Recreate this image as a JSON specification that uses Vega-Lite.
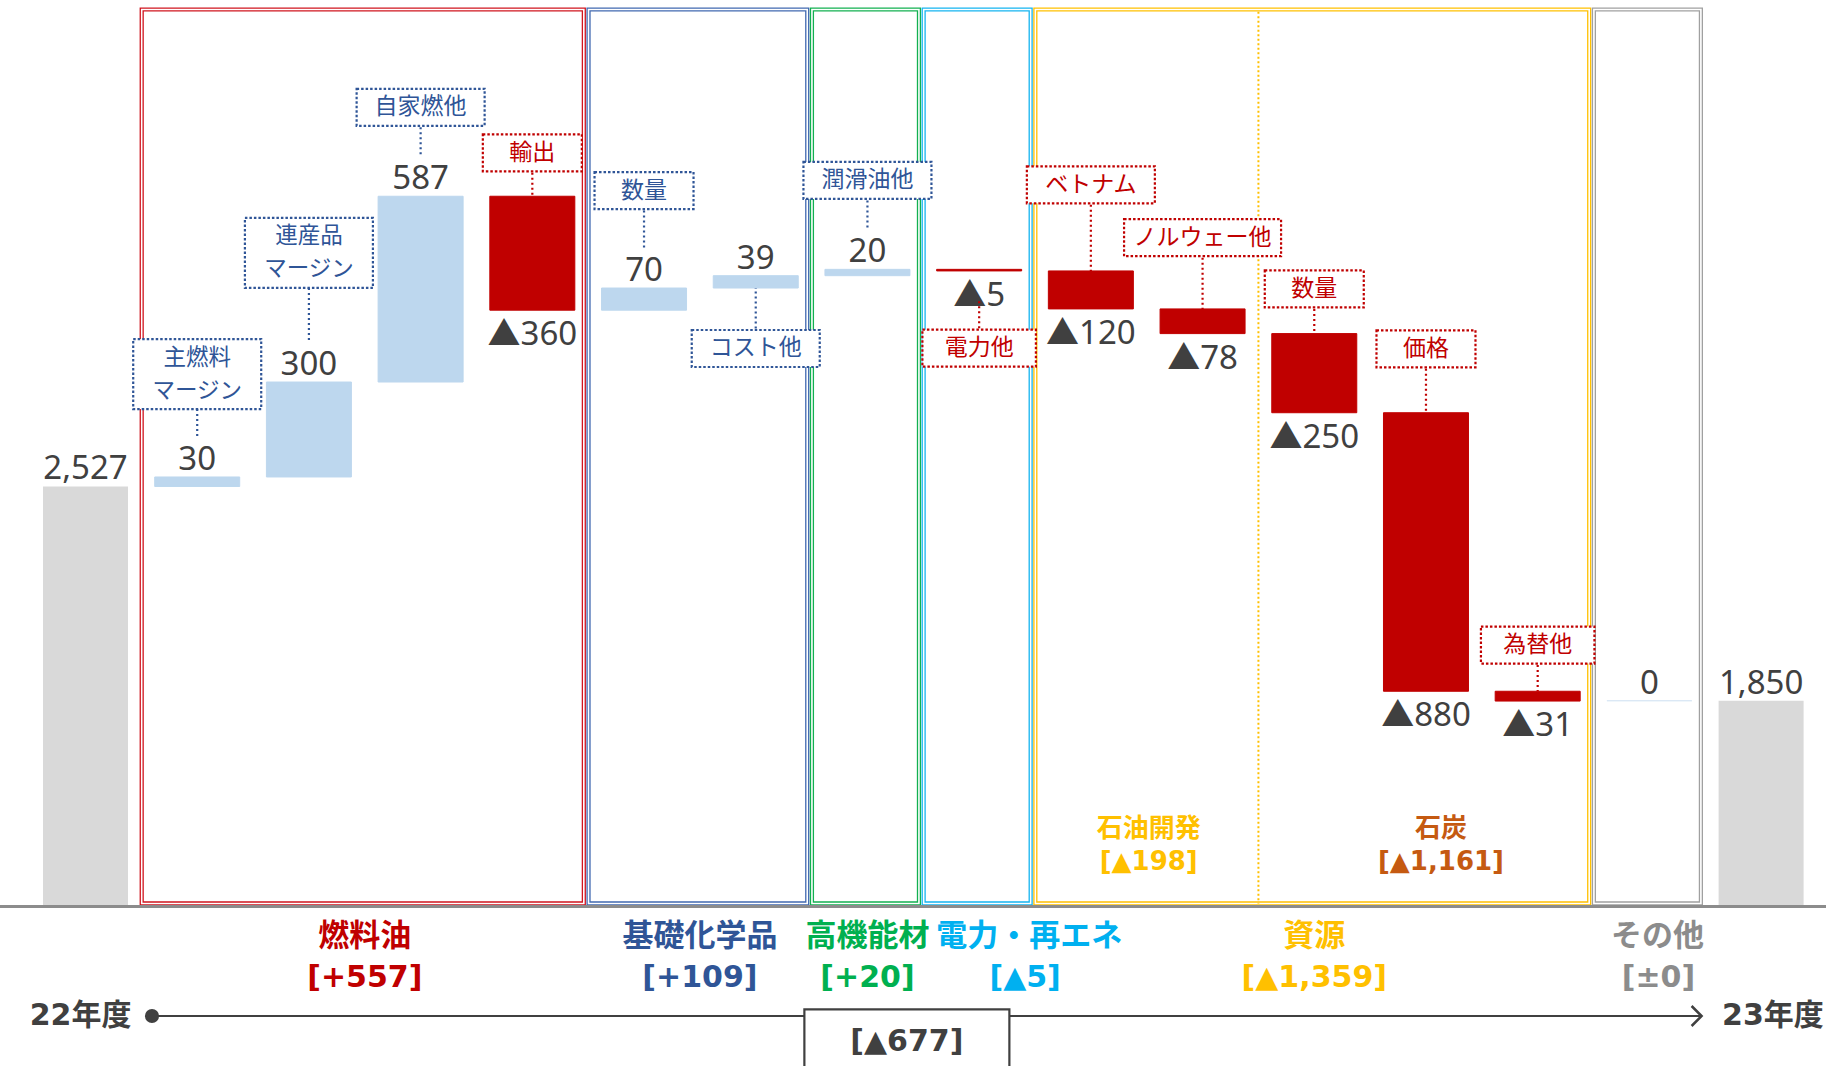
{
  "$schema": "https://vega.github.io/schema/vega-lite/v6.json",
  "width": 1826,
  "height": 1066,
  "padding": 0,
  "autosize": {"type": "none"},
  "background": "white",
  "config": {"view": {"stroke": null}, "axis": {"disable": true}, "legend": {"disable": true}},
  "datasets": {
    "bars": [
      {"i": 0, "item": "22年度", "kind": "total", "value": 2527, "end": 2527},
      {"i": 1, "item": "主燃料マージン", "kind": "up", "value": 30, "start": 2527, "end": 2557, "group": "燃料油", "note": "主燃料", "note2": "マージン", "noteLevel": 2882},
      {"i": 2, "item": "連産品マージン", "kind": "up", "value": 300, "start": 2557, "end": 2857, "group": "燃料油", "note": "連産品", "note2": "マージン", "noteLevel": 3265},
      {"i": 3, "item": "自家燃他", "kind": "up", "value": 587, "start": 2857, "end": 3444, "group": "燃料油", "note": "自家燃他", "noteLevel": 3725},
      {"i": 4, "item": "輸出", "kind": "down", "value": -360, "start": 3444, "end": 3084, "group": "燃料油", "note": "輸出", "noteLevel": 3581},
      {"i": 5, "item": "数量", "kind": "up", "value": 70, "start": 3084, "end": 3154, "group": "基礎化学品", "note": "数量", "noteLevel": 3462},
      {"i": 6, "item": "コスト他", "kind": "up", "value": 39, "start": 3154, "end": 3193, "group": "基礎化学品", "note": "コスト他", "noteLevel": 2963},
      {"i": 7, "item": "潤滑油他", "kind": "up", "value": 20, "start": 3193, "end": 3213, "group": "高機能材", "note": "潤滑油他", "noteLevel": 3494},
      {"i": 8, "item": "電力他", "kind": "down", "value": -5, "start": 3213, "end": 3208, "group": "電力・再エネ", "note": "電力他", "noteLevel": 2964},
      {"i": 9, "item": "ベトナム", "kind": "down", "value": -120, "start": 3208, "end": 3088, "group": "資源", "sub": "石油開発", "note": "ベトナム", "noteLevel": 3480},
      {"i": 10, "item": "ノルウェー他", "kind": "down", "value": -78, "start": 3088, "end": 3010, "group": "資源", "sub": "石油開発", "note": "ノルウェー他", "noteLevel": 3313},
      {"i": 11, "item": "数量", "kind": "down", "value": -250, "start": 3010, "end": 2760, "group": "資源", "sub": "石炭", "note": "数量", "noteLevel": 3151},
      {"i": 12, "item": "価格", "kind": "down", "value": -880, "start": 2760, "end": 1880, "group": "資源", "sub": "石炭", "note": "価格", "noteLevel": 2962},
      {"i": 13, "item": "為替他", "kind": "down", "value": -31, "start": 1880, "end": 1849, "group": "資源", "sub": "石炭", "note": "為替他", "noteLevel": 2026},
      {"i": 14, "item": "その他", "kind": "zero", "value": 0, "start": 1850, "end": 1850, "group": "その他"},
      {"i": 15, "item": "23年度", "kind": "total", "value": 1850, "end": 1850}
    ],
    "change": [{"label": "22年度→23年度", "value": -677}]
  },
  "data": {"name": "bars"},
  "resolve": {"scale": {"color": "independent", "stroke": "independent"}},
  "layer": [
    {
      "transform": [
        {"filter": "isValid(datum.group)"},
        {"aggregate": [{"op": "min", "field": "i", "as": "i0"}, {"op": "max", "field": "i", "as": "i1"}], "groupby": ["group"]}
      ],
      "mark": {"type": "rect", "filled": false, "strokeWidth": 4.2, "xOffset": -55.5, "x2Offset": 51.5},
      "encoding": {
        "x": {"field": "i0", "type": "quantitative", "scale": {"domain": [-0.7654, 15.581], "nice": false, "zero": false}, "axis": null},
        "x2": {"field": "i1"},
        "y": {"datum": 4034, "type": "quantitative", "scale": {"domain": [696, 4064], "nice": false, "zero": false}, "axis": null},
        "y2": {"datum": 1209.5},
        "color": {"field": "group", "type": "nominal", "legend": null,
          "scale": {"domain": ["燃料油", "基礎化学品", "高機能材", "電力・再エネ", "資源", "その他"], "range": ["#D0141E", "#4068B0", "#12B050", "#14B4F0", "#FFC000", "#A0A0A0"]}}
      }
    },
    {
      "transform": [
        {"filter": "isValid(datum.group)"},
        {"aggregate": [{"op": "min", "field": "i", "as": "i0"}, {"op": "max", "field": "i", "as": "i1"}], "groupby": ["group"]}
      ],
      "mark": {"type": "rect", "filled": false, "strokeWidth": 1.6, "color": "white", "xOffset": -55.5, "x2Offset": 51.5},
      "encoding": {
        "x": {"field": "i0", "type": "quantitative", "scale": {"domain": [-0.7654, 15.581], "nice": false, "zero": false}, "axis": null},
        "x2": {"field": "i1"},
        "y": {"datum": 4034, "type": "quantitative", "scale": {"domain": [696, 4064], "nice": false, "zero": false}, "axis": null},
        "y2": {"datum": 1209.5}
      }
    },
    {
      "transform": [
        {"filter": "datum.sub === '石炭'"},
        {"aggregate": [{"op": "min", "field": "i", "as": "i0"}]}
      ],
      "mark": {"type": "rule", "color": "#FFC000", "strokeWidth": 2, "strokeDash": [2, 2.5], "xOffset": -55.85},
      "encoding": {
        "x": {"field": "i0", "type": "quantitative", "scale": {"domain": [-0.7654, 15.581], "nice": false, "zero": false}, "axis": null},
        "y": {"datum": 4027, "type": "quantitative", "scale": {"domain": [696, 4064], "nice": false, "zero": false}, "axis": null},
        "y2": {"datum": 1209.5}
      }
    },
    {
      "transform": [{"filter": "datum.kind === 'total'"}],
      "mark": {"type": "rect", "color": "#D9D9D9", "xOffset": -42.5, "x2Offset": 42.5},
      "encoding": {
        "x": {"field": "i", "type": "quantitative", "scale": {"domain": [-0.7654, 15.581], "nice": false, "zero": false}, "axis": null},
        "x2": {"field": "i"},
        "y": {"field": "value", "type": "quantitative", "scale": {"domain": [696, 4064], "nice": false, "zero": false}, "axis": null},
        "y2": {"datum": 1200}
      }
    },
    {
      "transform": [{"filter": "datum.kind !== 'total'"}],
      "mark": {"type": "rect", "strokeWidth": 1, "xOffset": -42.5, "x2Offset": 42.5},
      "encoding": {
        "x": {"field": "i", "type": "quantitative", "scale": {"domain": [-0.7654, 15.581], "nice": false, "zero": false}, "axis": null},
        "x2": {"field": "i"},
        "y": {"field": "start", "type": "quantitative", "scale": {"domain": [696, 4064], "nice": false, "zero": false}, "axis": null},
        "y2": {"field": "end"},
        "color": {"field": "kind", "type": "nominal", "legend": null, "scale": {"domain": ["up", "down", "zero"], "range": ["#BDD7EE", "#C00000", "#DAE7F5"]}},
        "stroke": {"field": "kind", "type": "nominal", "legend": null, "scale": {"domain": ["up", "down", "zero"], "range": ["#BDD7EE", "#C00000", "#DAE7F5"]}}
      }
    },
    {
      "mark": {"type": "rule", "color": "#8C8C8C", "strokeWidth": 2.2},
      "encoding": {
        "y": {"datum": 1199.5, "type": "quantitative", "scale": {"domain": [696, 4064], "nice": false, "zero": false}, "axis": null}
      }
    },
    {
      "transform": [{"calculate": "datum.value < 0 ? '▲' + format(-datum.value, ',') : format(datum.value, ',')", "as": "lbl"}],
      "mark": {"type": "text", "font": "Noto Sans, Noto Sans CJK JP", "fontSize": 33, "color": "#404040", "baseline": "alphabetic", "dy": {"expr": "datum.kind === 'down' ? 35 : -7"}},
      "encoding": {
        "x": {"field": "i", "type": "quantitative", "scale": {"domain": [-0.7654, 15.581], "nice": false, "zero": false}, "axis": null},
        "y": {"field": "end", "type": "quantitative", "scale": {"domain": [696, 4064], "nice": false, "zero": false}, "axis": null},
        "text": {"field": "lbl"}
      }
    },
    {
      "transform": [{"filter": "isValid(datum.note) && datum.kind === 'up' && datum.noteLevel > datum.end"}],
      "mark": {"type": "rule", "strokeWidth": 2.2, "strokeDash": [2, 3], "y2Offset": -39},
      "encoding": {
        "x": {"field": "i", "type": "quantitative", "scale": {"domain": [-0.7654, 15.581], "nice": false, "zero": false}, "axis": null},
        "y": {"field": "noteLevel", "type": "quantitative", "scale": {"domain": [696, 4064], "nice": false, "zero": false}, "axis": null},
        "y2": {"field": "end"},
        "color": {"field": "kind", "type": "nominal", "legend": null, "scale": {"domain": ["up", "down"], "range": ["#2F5597", "#C00000"]}}
      }
    },
    {
      "transform": [{"filter": "isValid(datum.note) && ((datum.kind === 'down' && datum.noteLevel > datum.start) || (datum.kind === 'up' && datum.noteLevel < datum.start))"}],
      "mark": {"type": "rule", "strokeWidth": 2.2, "strokeDash": [2, 3]},
      "encoding": {
        "x": {"field": "i", "type": "quantitative", "scale": {"domain": [-0.7654, 15.581], "nice": false, "zero": false}, "axis": null},
        "y": {"field": "noteLevel", "type": "quantitative", "scale": {"domain": [696, 4064], "nice": false, "zero": false}, "axis": null},
        "y2": {"field": "start"},
        "color": {"field": "kind", "type": "nominal", "legend": null, "scale": {"domain": ["up", "down"], "range": ["#2F5597", "#C00000"]}}
      }
    },
    {
      "transform": [{"filter": "isValid(datum.note) && datum.kind === 'down' && datum.noteLevel < datum.end"}],
      "mark": {"type": "rule", "strokeWidth": 2.2, "strokeDash": [2, 3], "y2Offset": 30},
      "encoding": {
        "x": {"field": "i", "type": "quantitative", "scale": {"domain": [-0.7654, 15.581], "nice": false, "zero": false}, "axis": null},
        "y": {"field": "noteLevel", "type": "quantitative", "scale": {"domain": [696, 4064], "nice": false, "zero": false}, "axis": null},
        "y2": {"field": "end"},
        "color": {"field": "kind", "type": "nominal", "legend": null, "scale": {"domain": ["up", "down"], "range": ["#2F5597", "#C00000"]}}
      }
    },
    {
      "transform": [
        {"filter": "isValid(datum.note)"},
        {"calculate": "max(length(datum.note), isValid(datum.note2) ? length(datum.note2) : 0)", "as": "nc"},
        {"calculate": "isValid(datum.note2) ? 2 : 1", "as": "nl"}
      ],
      "mark": {"type": "rect", "fill": "white", "strokeWidth": 2.2, "strokeDash": [2.5, 2],
        "xOffset": {"expr": "-(14.5 * datum.nc + 70) / 2"},
        "x2Offset": {"expr": "(14.5 * datum.nc + 70) / 2"},
        "yOffset": {"expr": "datum.nl === 2 ? -35 : -18.5"},
        "y2Offset": {"expr": "datum.nl === 2 ? 35 : 18.5"}},
      "encoding": {
        "x": {"field": "i", "type": "quantitative", "scale": {"domain": [-0.7654, 15.581], "nice": false, "zero": false}, "axis": null},
        "x2": {"field": "i"},
        "y": {"field": "noteLevel", "type": "quantitative", "scale": {"domain": [696, 4064], "nice": false, "zero": false}, "axis": null},
        "y2": {"field": "noteLevel"},
        "stroke": {"field": "kind", "type": "nominal", "legend": null, "scale": {"domain": ["up", "down"], "range": ["#2F5597", "#C00000"]}}
      }
    },
    {
      "transform": [{"filter": "isValid(datum.note)"}],
      "mark": {"type": "text", "font": "Noto Sans CJK JP", "baseline": "middle",
        "fontSize": {"expr": "isValid(datum.note2) ? 22.5 : 23"},
        "dy": {"expr": "isValid(datum.note2) ? -16.5 : 0"}},
      "encoding": {
        "x": {"field": "i", "type": "quantitative", "scale": {"domain": [-0.7654, 15.581], "nice": false, "zero": false}, "axis": null},
        "y": {"field": "noteLevel", "type": "quantitative", "scale": {"domain": [696, 4064], "nice": false, "zero": false}, "axis": null},
        "text": {"field": "note"},
        "color": {"field": "kind", "type": "nominal", "legend": null, "scale": {"domain": ["up", "down"], "range": ["#2F5597", "#C00000"]}}
      }
    },
    {
      "transform": [{"filter": "isValid(datum.note2)"}],
      "mark": {"type": "text", "font": "Noto Sans CJK JP", "fontSize": 22.5, "baseline": "middle", "dy": 16.5},
      "encoding": {
        "x": {"field": "i", "type": "quantitative", "scale": {"domain": [-0.7654, 15.581], "nice": false, "zero": false}, "axis": null},
        "y": {"field": "noteLevel", "type": "quantitative", "scale": {"domain": [696, 4064], "nice": false, "zero": false}, "axis": null},
        "text": {"field": "note2"},
        "color": {"field": "kind", "type": "nominal", "legend": null, "scale": {"domain": ["up", "down"], "range": ["#2F5597", "#C00000"]}}
      }
    },
    {
      "transform": [
        {"filter": "isValid(datum.group)"},
        {"aggregate": [{"op": "mean", "field": "i", "as": "ic"}], "groupby": ["group"]}
      ],
      "mark": {"type": "text", "font": "Noto Sans CJK JP", "fontWeight": "bold", "fontSize": 31, "baseline": "middle",
        "dx": {"expr": "datum.group === '電力・再エネ' ? 50 : datum.group === 'その他' ? 8 : 0"}},
      "encoding": {
        "x": {"field": "ic", "type": "quantitative", "scale": {"domain": [-0.7654, 15.581], "nice": false, "zero": false}, "axis": null},
        "y": {"datum": 1103.6, "type": "quantitative", "scale": {"domain": [696, 4064], "nice": false, "zero": false}, "axis": null},
        "text": {"field": "group"},
        "color": {"field": "group", "type": "nominal", "legend": null,
          "scale": {"domain": ["燃料油", "基礎化学品", "高機能材", "電力・再エネ", "資源", "その他"], "range": ["#C00000", "#2F5597", "#00B050", "#00B0F0", "#FFC000", "#8C8C8C"]}}
      }
    },
    {
      "transform": [
        {"filter": "isValid(datum.group)"},
        {"aggregate": [{"op": "mean", "field": "i", "as": "ic"}, {"op": "sum", "field": "value", "as": "total"}], "groupby": ["group"]},
        {"calculate": "'[' + (datum.total > 0 ? '+' : datum.total < 0 ? '▲' : '±') + format(abs(datum.total), ',') + ']'", "as": "lbl"}
      ],
      "mark": {"type": "text", "font": "DejaVu Sans, Noto Sans CJK JP", "fontWeight": "bold", "fontSize": 30, "baseline": "middle",
        "dx": {"expr": "datum.group === '電力・再エネ' ? 46 : datum.group === 'その他' ? 9 : 0"}},
      "encoding": {
        "x": {"field": "ic", "type": "quantitative", "scale": {"domain": [-0.7654, 15.581], "nice": false, "zero": false}, "axis": null},
        "y": {"datum": 974, "type": "quantitative", "scale": {"domain": [696, 4064], "nice": false, "zero": false}, "axis": null},
        "text": {"field": "lbl"},
        "color": {"field": "group", "type": "nominal", "legend": null,
          "scale": {"domain": ["燃料油", "基礎化学品", "高機能材", "電力・再エネ", "資源", "その他"], "range": ["#C00000", "#2F5597", "#00B050", "#00B0F0", "#FFC000", "#8C8C8C"]}}
      }
    },
    {
      "transform": [
        {"filter": "isValid(datum.sub)"},
        {"aggregate": [{"op": "mean", "field": "i", "as": "ic"}], "groupby": ["sub"]}
      ],
      "mark": {"type": "text", "font": "Noto Sans CJK JP", "fontWeight": "bold", "fontSize": 26, "baseline": "middle",
        "dx": {"expr": "datum.sub === '石炭' ? 15 : 2"}},
      "encoding": {
        "x": {"field": "ic", "type": "quantitative", "scale": {"domain": [-0.7654, 15.581], "nice": false, "zero": false}, "axis": null},
        "y": {"datum": 1446, "type": "quantitative", "scale": {"domain": [696, 4064], "nice": false, "zero": false}, "axis": null},
        "text": {"field": "sub"},
        "color": {"field": "sub", "type": "nominal", "legend": null, "scale": {"domain": ["石油開発", "石炭"], "range": ["#FFC000", "#C55A11"]}}
      }
    },
    {
      "transform": [
        {"filter": "isValid(datum.sub)"},
        {"aggregate": [{"op": "mean", "field": "i", "as": "ic"}, {"op": "sum", "field": "value", "as": "total"}], "groupby": ["sub"]},
        {"calculate": "'[' + (datum.total > 0 ? '+' : datum.total < 0 ? '▲' : '±') + format(abs(datum.total), ',') + ']'", "as": "lbl"}
      ],
      "mark": {"type": "text", "font": "DejaVu Sans, Noto Sans CJK JP", "fontWeight": "bold", "fontSize": 26, "baseline": "middle",
        "dx": {"expr": "datum.sub === '石炭' ? 15 : 2"}},
      "encoding": {
        "x": {"field": "ic", "type": "quantitative", "scale": {"domain": [-0.7654, 15.581], "nice": false, "zero": false}, "axis": null},
        "y": {"datum": 1339, "type": "quantitative", "scale": {"domain": [696, 4064], "nice": false, "zero": false}, "axis": null},
        "text": {"field": "lbl"},
        "color": {"field": "sub", "type": "nominal", "legend": null, "scale": {"domain": ["石油開発", "石炭"], "range": ["#FFC000", "#C55A11"]}}
      }
    },
    {
      "transform": [
        {"filter": "datum.kind === 'total'"},
        {"aggregate": [{"op": "min", "field": "i", "as": "i0"}, {"op": "max", "field": "i", "as": "i1"}]}
      ],
      "mark": {"type": "rule", "color": "#404040", "strokeWidth": 2.2, "xOffset": 66.5, "x2Offset": -60.5},
      "encoding": {
        "x": {"field": "i0", "type": "quantitative", "scale": {"domain": [-0.7654, 15.581], "nice": false, "zero": false}, "axis": null},
        "x2": {"field": "i1"},
        "y": {"datum": 854, "type": "quantitative", "scale": {"domain": [696, 4064], "nice": false, "zero": false}, "axis": null}
      }
    },
    {
      "transform": [
        {"filter": "datum.kind === 'total'"},
        {"aggregate": [{"op": "min", "field": "i", "as": "i0"}]}
      ],
      "mark": {"type": "point", "shape": "circle", "filled": true, "color": "#404040", "opacity": 1, "size": 200, "xOffset": 66.5},
      "encoding": {
        "x": {"field": "i0", "type": "quantitative", "scale": {"domain": [-0.7654, 15.581], "nice": false, "zero": false}, "axis": null},
        "y": {"datum": 854, "type": "quantitative", "scale": {"domain": [696, 4064], "nice": false, "zero": false}, "axis": null}
      }
    },
    {
      "transform": [
        {"filter": "datum.kind === 'total'"},
        {"aggregate": [{"op": "max", "field": "i", "as": "i1"}]}
      ],
      "mark": {"type": "point", "shape": "M-1,-1L0,0L-1,1", "filled": false, "color": "#404040", "opacity": 1, "strokeWidth": 2.5, "size": 400, "xOffset": -59.5},
      "encoding": {
        "x": {"field": "i1", "type": "quantitative", "scale": {"domain": [-0.7654, 15.581], "nice": false, "zero": false}, "axis": null},
        "y": {"datum": 854, "type": "quantitative", "scale": {"domain": [696, 4064], "nice": false, "zero": false}, "axis": null}
      }
    },
    {
      "transform": [{"filter": "datum.kind === 'total'"}],
      "mark": {"type": "text", "font": "DejaVu Sans, Noto Sans CJK JP", "fontWeight": "bold", "fontSize": 30, "color": "#404040", "baseline": "middle",
        "align": {"expr": "datum.i === 0 ? 'right' : 'left'"},
        "dx": {"expr": "datum.i === 0 ? 46 : -39"}},
      "encoding": {
        "x": {"field": "i", "type": "quantitative", "scale": {"domain": [-0.7654, 15.581], "nice": false, "zero": false}, "axis": null},
        "y": {"datum": 854, "type": "quantitative", "scale": {"domain": [696, 4064], "nice": false, "zero": false}, "axis": null},
        "text": {"field": "item"}
      }
    },
    {
      "data": {"name": "change"},
      "mark": {"type": "rect", "fill": "white", "stroke": "#404040", "strokeWidth": 2.2, "xOffset": -102.5, "x2Offset": 102.5},
      "encoding": {
        "x": {"datum": 7.353, "type": "quantitative", "scale": {"domain": [-0.7654, 15.581], "nice": false, "zero": false}, "axis": null},
        "x2": {"datum": 7.353},
        "y": {"datum": 874.6, "type": "quantitative", "scale": {"domain": [696, 4064], "nice": false, "zero": false}, "axis": null},
        "y2": {"datum": 650}
      }
    },
    {
      "data": {"name": "change"},
      "transform": [{"calculate": "'[' + (datum.value > 0 ? '+' : datum.value < 0 ? '▲' : '±') + format(abs(datum.value), ',') + ']'", "as": "lbl"}],
      "mark": {"type": "text", "font": "DejaVu Sans, Noto Sans CJK JP", "fontWeight": "bold", "fontSize": 30, "color": "#404040", "baseline": "middle"},
      "encoding": {
        "x": {"datum": 7.353, "type": "quantitative", "scale": {"domain": [-0.7654, 15.581], "nice": false, "zero": false}, "axis": null},
        "y": {"datum": 772, "type": "quantitative", "scale": {"domain": [696, 4064], "nice": false, "zero": false}, "axis": null},
        "text": {"field": "lbl"}
      }
    }
  ]
}
